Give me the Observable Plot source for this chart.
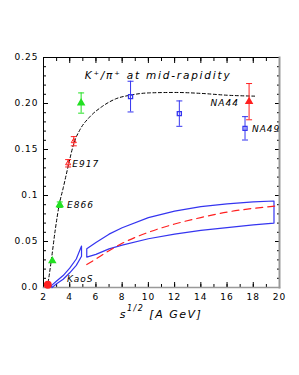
<!DOCTYPE html>
<html><head><meta charset="utf-8">
<script src="https://cdn.jsdelivr.net/npm/d3@7"></script>
<script src="https://cdn.jsdelivr.net/npm/@observablehq/plot@0.6"></script>
<style>
body{margin:0;background:#fff;}
svg text{font-family:"DejaVu Sans",sans-serif;}
</style>
</head><body>
<div id="chart"></div>
<script>
// ---- data ----
const curveX = [2.3, 2.6, 2.9, 3.2, 3.5, 3.9, 4.3, 4.8, 5.5, 6.5, 7.5, 8.6, 10, 12, 14, 16, 18.1];
const curveY = [0.0, 0.030, 0.063, 0.090, 0.108, 0.133, 0.156, 0.172, 0.185, 0.197, 0.205, 0.209, 0.2115, 0.212, 0.211, 0.209, 0.208];

const kaosUpX = [2.6, 3.0, 3.5, 4.0, 4.5, 4.9];
const kaosUpY = [0.002, 0.007, 0.013, 0.021, 0.031, 0.045];
const kaosLoX = [2.65, 3.0, 3.5, 4.0, 4.5, 4.9];
const kaosLoY = [0.000, 0.004, 0.009, 0.016, 0.024, 0.034];

const bandUpX = [5.3, 6, 7, 8, 10, 12, 14, 16, 18, 19.58];
const bandUpY = [0.042, 0.049, 0.058, 0.065, 0.076, 0.083, 0.088, 0.091, 0.093, 0.094];
const bandLoX = [5.3, 6, 7, 8, 10, 12, 14, 16, 18, 19.58];
const bandLoY = [0.033, 0.036, 0.042, 0.046, 0.053, 0.058, 0.062, 0.065, 0.068, 0.070];

const redX = [5.3, 6, 7, 8, 10, 12, 14, 16, 18, 20];
const redY = [0.025, 0.031, 0.040, 0.048, 0.060, 0.069, 0.076, 0.082, 0.086, 0.089];

// measurements
const greenX = [2.67, 3.24, 4.87];
const greenY = [0.029, 0.090, 0.2005];
const greenErr = [0.0, 0.003, 0.011];

const e917X = [3.88, 4.31];
const e917Y = [0.135, 0.159];
const e917Err = [0.004, 0.005];

const na44X = [17.68];
const na44Y = [0.202];
const na44Err = [0.0197];

const na49X = [8.64, 12.36, 17.37];
const na49Y = [0.2075, 0.189, 0.173];
const na49Err = [0.0167, 0.0138, 0.0127];

const kaosDotX = [2.33];
const kaosDotY = [0.003];

const yTicks = [0, 0.05, 0.1, 0.15, 0.2, 0.25];
const yTickLabels = ["0.0", "0.05", "0.1", "0.15", "0.20", "0.25"];
const xTicks = [2, 4, 6, 8, 10, 12, 14, 16, 18, 20];

const leftLabelText = ["E917", "E866", "KaoS", "NA49"];
const leftLabelX = [4.2, 3.8, 3.8, 17.9];
const leftLabelY = [0.134, 0.090, 0.009, 0.172];
const rightLabelText = ["NA44"];
const rightLabelX = [16.9];
const rightLabelY = [0.200];

// ---- build tables ----
const pts = (xs, ys) => xs.map((x, i) => ({x, y: ys[i]}));
const errs = (xs, ys, es) => xs.map((x, i) => ({x, y: ys[i], lo: ys[i] - es[i], hi: ys[i] + es[i]}));
const poly = (ux, uy, lx, ly) => {
  const a = pts(ux, uy), b = pts(lx, ly).reverse();
  return [...a, ...b, a[0]];
};
const kaosPoly = poly(kaosUpX, kaosUpY, kaosLoX, kaosLoY);
const bandPoly = poly(bandUpX, bandUpY, bandLoX, bandLoY);
const green = errs(greenX, greenY, greenErr);
const e917 = errs(e917X, e917Y, e917Err);
const na44 = errs(na44X, na44Y, na44Err);
const na49 = errs(na49X, na49Y, na49Err);
const leftLabels = leftLabelText.map((t, i) => ({t, x: leftLabelX[i], y: leftLabelY[i]}));
const rightLabels = rightLabelText.map((t, i) => ({t, x: rightLabelX[i], y: rightLabelY[i]}));

const cap = {draw(ctx, size) { const w = Math.sqrt(size / Math.PI); ctx.moveTo(-w, 0); ctx.lineTo(w, 0); }};

function errMarks(data, color, capR) {
  const d = data.filter(p => p.hi > p.lo);
  return [
    Plot.ruleX(d, {x: "x", y1: "lo", y2: "hi", stroke: color, strokeWidth: 1}),
    Plot.dot(d, {x: "x", y: "lo", symbol: cap, r: capR, stroke: color, strokeWidth: 1}),
    Plot.dot(d, {x: "x", y: "hi", symbol: cap, r: capR, stroke: color, strokeWidth: 1})
  ];
}

const BLUE = "#3535f0", RED = "#ff2020", GREEN = "#22e022";

const chart = Plot.plot({
  width: 299, height: 375,
  marginLeft: 43, marginRight: 20, marginTop: 57, marginBottom: 88,
  style: {fontFamily: "DejaVu Sans, sans-serif", fontSize: "9px", background: "#fff", overflow: "visible"},
  x: {domain: [2, 20]},
  y: {domain: [0, 0.25]},
  marks: [
    // axes: minor ticks (inward)
    Plot.axisX({anchor: "bottom", ticks: d3.range(2, 20.01, 1), tickSize: -3, tickFormat: () => "", label: null}),
    Plot.axisX({anchor: "top", ticks: d3.range(2, 20.01, 1), tickSize: -3, tickFormat: () => "", label: null}),
    Plot.axisY({anchor: "left", ticks: d3.range(0, 0.2501, 0.01), tickSize: -3, tickFormat: () => "", label: null}),
    Plot.axisY({anchor: "right", ticks: d3.range(0, 0.2501, 0.01), tickSize: -3, tickFormat: () => "", label: null}),
    // majors
    Plot.axisX({anchor: "bottom", ticks: xTicks, tickSize: -5, tickPadding: 11, label: null, tickFormat: d => String(d)}),
    Plot.axisX({anchor: "top", ticks: xTicks, tickSize: -5, tickFormat: () => "", label: null}),
    Plot.axisY({anchor: "left", ticks: yTicks, tickSize: -5, tickPadding: 10, label: null, tickFormat: (d, i) => yTickLabels[i]}),
    Plot.axisY({anchor: "right", ticks: yTicks, tickSize: -5, tickFormat: () => "", label: null}),
    Plot.frame({stroke: "#000", strokeWidth: 1}),
    Plot.frame({anchor: "right", stroke: "#999", strokeWidth: 2}),
    Plot.frame({anchor: "bottom", stroke: "#999", strokeWidth: 1.5}),
    // model curves
    Plot.line(pts(curveX, curveY), {x: "x", y: "y", curve: "monotone-x", stroke: "#000", strokeWidth: 1, strokeDasharray: "3,2.5"}),
    Plot.line(kaosPoly, {x: "x", y: "y", stroke: BLUE, strokeWidth: 1.2}),
    Plot.line(bandPoly, {x: "x", y: "y", stroke: BLUE, strokeWidth: 1.2}),
    Plot.line(pts(redX, redY), {x: "x", y: "y", curve: "monotone-x", stroke: RED, strokeWidth: 1.2, strokeDasharray: "7,5"}),
    // data
    ...errMarks(green, GREEN, 3),
    Plot.dot(green, {x: "x", y: "y", symbol: "triangle", r: 2.2, fill: GREEN, stroke: GREEN}),
    ...errMarks(e917, RED, 3),
    Plot.dot(e917, {x: "x", y: "y", symbol: "triangle", r: 1.9, fill: "none", stroke: RED, strokeWidth: 1}),
    ...errMarks(na44, RED, 3),
    Plot.dot(na44, {x: "x", y: "y", symbol: "triangle", r: 2.2, fill: RED, stroke: RED}),
    ...errMarks(na49, BLUE, 3),
    Plot.dot(na49, {x: "x", y: "y", symbol: "square", r: 2.3, fill: "none", stroke: BLUE, strokeWidth: 1.3}),
    Plot.dot(pts(kaosDotX, kaosDotY), {x: "x", y: "y", r: 3.2, fill: RED, stroke: RED}),
    // labels
    Plot.text(leftLabels, {x: "x", y: "y", text: "t", textAnchor: "start", fontSize: 9, fontStyle: "italic", fill: "#000"}),
    Plot.text(rightLabels, {x: "x", y: "y", text: "t", textAnchor: "end", fontSize: 9, fontStyle: "italic", fill: "#000"}),
    Plot.text(["K⁺/π⁺ at mid-rapidity"], {x: 10.74, y: 0.2305, text: d => d, fontSize: 10.5, fontStyle: "italic", fill: "#000", className: "title"})
  ]
});

const svg = d3.select(chart);
svg.selectAll("text").style("letter-spacing", "1px");
svg.selectAll(".title text").style("letter-spacing", "1.8px");
// x axis label with superscript
const xl = svg.append("text")
  .attr("x", 161).attr("y", 318).attr("text-anchor", "middle")
  .attr("font-size", 11).attr("font-style", "italic").style("letter-spacing", "1.5px")
  .attr("fill", "#000");
xl.append("tspan").text("s");
xl.append("tspan").attr("dy", -7).attr("font-size", 8).text("1/2");
xl.append("tspan").attr("dy", 7).text(" [A GeV]");
document.getElementById("chart").appendChild(chart);
</script>
</body></html>
